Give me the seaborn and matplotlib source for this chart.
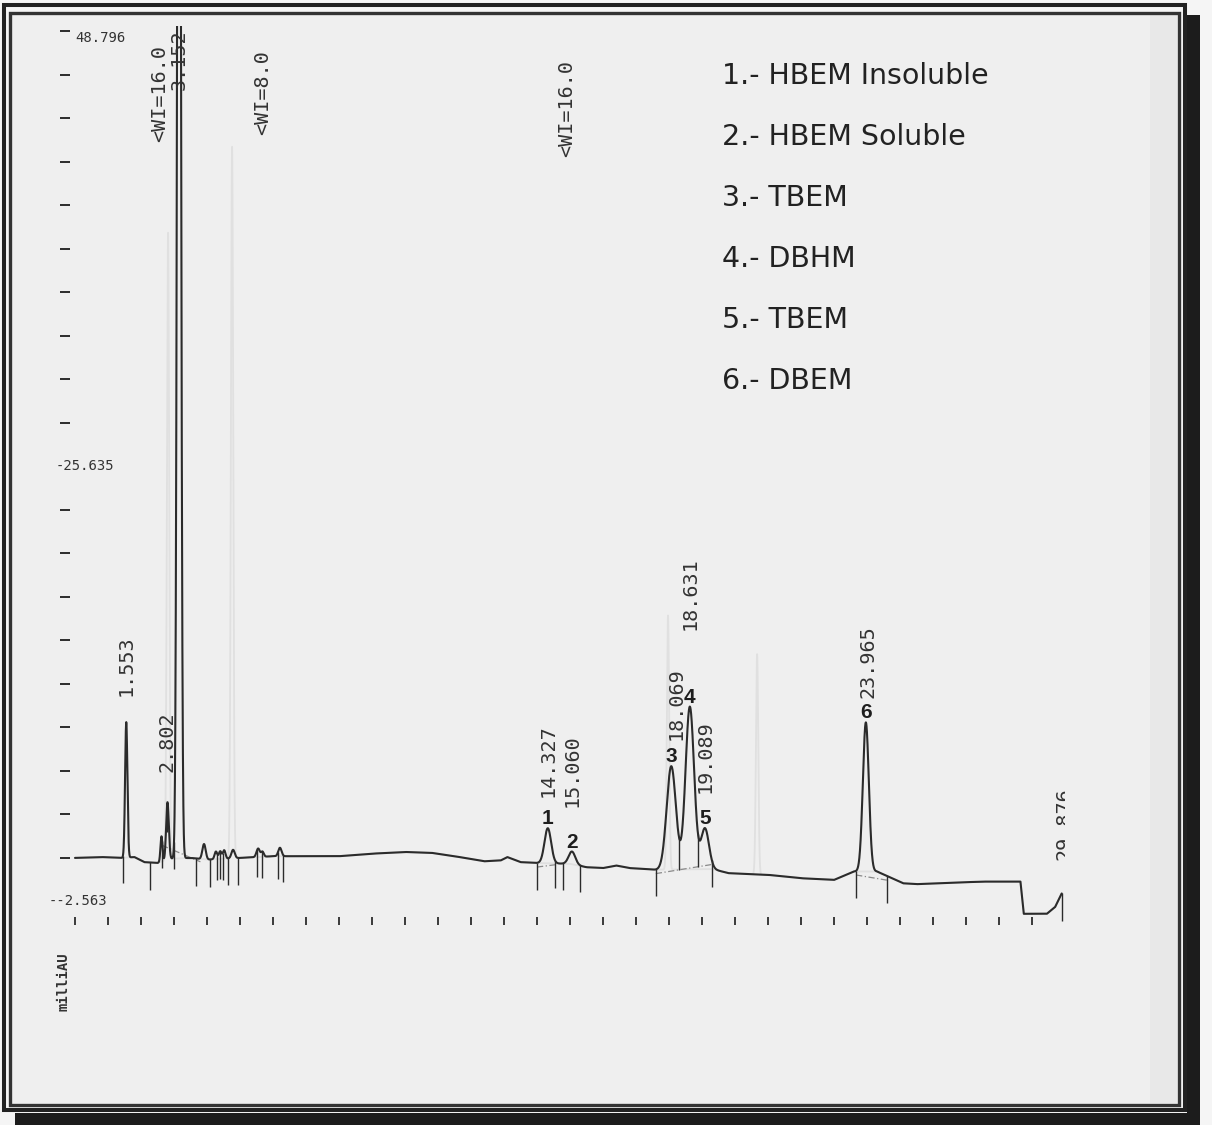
import numpy as np
import matplotlib
matplotlib.use("Agg")
import matplotlib.pyplot as plt
from matplotlib.patches import Rectangle
import seaborn as sns

# ---------------- chromatogram data (time in min, signal in milliAU) ----------------
peak_times   = [1.553, 2.62, 2.802, 3.152, 3.91, 4.27, 4.40, 4.52, 4.79, 5.55, 5.68, 6.21,
                14.327, 15.060, 18.069, 18.631, 19.089, 23.965]
peak_heights = [8.0, 1.5, 3.4, 100.0, 0.9, 0.45, 0.45, 0.5, 0.5, 0.5, 0.3, 0.5,
                2.07, 0.75, 6.1, 9.6, 2.4, 8.8]
peak_sigmas  = [0.035, 0.03, 0.04, 0.05, 0.05, 0.04, 0.04, 0.04, 0.05, 0.05, 0.04, 0.05,
                0.10, 0.10, 0.14, 0.13, 0.12, 0.09]

# detector baseline drift
base_times  = [0, 0.8, 1.4, 1.8, 2.1, 2.5, 2.9, 3.5, 4.0, 5.0, 6.0, 7.0, 8.0, 9.0, 10.0,
               10.8, 11.5, 12.4, 12.9, 13.1, 13.5, 14.0, 15.0, 15.5, 16.0, 16.4, 16.8,
               17.6, 19.3, 19.8, 21.0, 22.0, 23.0, 23.6, 24.3, 25.1, 25.5, 26.5, 27.5,
               28.65, 28.75, 29.45, 29.7, 29.9]
base_values = [0.0, 0.05, 0.0, 0.05, -0.25, -0.3, -0.05, 0.0, -0.1, 0.0, 0.1, 0.1, 0.1, 0.25,
               0.35, 0.3, 0.1, -0.2, -0.15, 0.05, -0.25, -0.3, -0.35, -0.55, -0.6, -0.45,
               -0.6, -0.7, -0.65, -0.9, -1.0, -1.2, -1.3, -0.8, -0.8, -1.5, -1.55, -1.47,
               -1.4, -1.4, -3.3, -3.3, -2.9, -2.1]

# faint trace showing through the chart paper
ghost_times   = [2.82, 4.76, 17.97, 20.67]
ghost_heights = [37.0, 42.0, 15.0, 13.0]

# retention-time annotations printed by the integrator
rt_labels = ["1.553", "2.802", "14.327", "15.060", "18.069", "18.631", "19.089", "23.965"]
rt_times  = [1.553, 2.802, 14.327, 15.060, 18.069, 18.631, 19.089, 23.965]
main_rt_label, main_rt_time = "3.152", 3.152
end_rt_label, end_rt_time = "29.876", 29.876

# integration events
event_labels = ["<WI=16.0", "<WI=8.0", "<WI=16.0"]
event_times  = [2.55, 5.70, 14.90]

# peak markers (drop lines) and valley splits
drop_times   = [1.45, 2.27, 2.64, 2.79, 3.0, 3.67, 4.09, 4.30, 4.39, 4.48, 4.64, 4.94,
                5.52, 5.67, 6.15, 6.30, 14.0, 14.55, 14.79, 15.3, 17.6, 19.3, 23.67, 24.6, 29.9]
valley_times = [18.30, 18.88]
integration_spans = [(2.64, 3.8), (14.0, 14.55), (17.6, 19.3), (23.67, 24.6)]

# identified compounds
compound_ids   = ["1", "2", "3", "4", "5", "6"]
compound_times = [14.327, 15.060, 18.069, 18.631, 19.089, 23.965]
compound_names = ["HBEM Insoluble", "HBEM Soluble", "TBEM", "DBHM", "TBEM", "DBEM"]

# y scale of the recorder
y_top, y_bottom, y_divisions = 48.796, -2.563, 20
y_label_text = {0: "48.796", 10: "-25.635", 20: "--2.563"}
time_ticks = list(range(0, 30))

# ---------------- layout ----------------
W, H = 1212, 1125
INK = "#2b2b2b"
PAPER = "#efefef"
MONO = "DejaVu Sans Mono"

sns.set_theme(style="white")
plt.rcParams["font.family"] = ["DejaVu Sans"]

fig = plt.figure(figsize=(W / 100, H / 100), dpi=100)
fig.patch.set_facecolor("#f5f5f5")

def fx(px):
    return px / W

def fy(py):
    return 1 - py / H

ax = fig.add_axes([fx(42), fy(1040), fx(1065) - fx(42), fy(26) - fy(1040)])
ax.set_xlim(-1.0, 30.0)
ax.set_ylim(-10.75, 49.11)
ax.axis("off")
ax.patch.set_alpha(0)

# paper and frame
fig.add_artist(Rectangle((fx(10), fy(1105)), fx(1178) - fx(10), fy(12) - fy(1105),
                         transform=fig.transFigure, facecolor=PAPER, edgecolor="none", zorder=-3))
fig.add_artist(Rectangle((fx(1150), fy(1103)), fx(1177) - fx(1150), fy(14) - fy(1103),
                         transform=fig.transFigure, facecolor="#e4e4e4", edgecolor="none",
                         alpha=0.6, zorder=-2))
fig.add_artist(Rectangle((fx(1187), fy(1125)), fx(1200) - fx(1187), fy(15) - fy(1125),
                         transform=fig.transFigure, facecolor="#1c1c1c", edgecolor="none", zorder=5))
fig.add_artist(Rectangle((fx(15), fy(1125)), fx(1200) - fx(15), fy(1113) - fy(1125),
                         transform=fig.transFigure, facecolor="#1c1c1c", edgecolor="none", zorder=5))
fig.add_artist(Rectangle((fx(3.5), fy(1110)), fx(1184.5) - fx(3.5), fy(5) - fy(1110),
                         transform=fig.transFigure, facecolor="none", edgecolor="#222222",
                         linewidth=2.9, zorder=5))
fig.add_artist(Rectangle((fx(9.5), fy(1104.5)), fx(1178.5) - fx(9.5), fy(12.5) - fy(1104.5),
                         transform=fig.transFigure, facecolor="none", edgecolor="#333333",
                         linewidth=2.4, zorder=5))

# ---------------- signal ----------------
t = np.arange(0.0, 29.9 + 1e-9, 0.002)
signal = np.interp(t, base_times, base_values)
for tr, h, s in zip(peak_times, peak_heights, peak_sigmas):
    signal = signal + h * np.exp(-0.5 * ((t - tr) / s) ** 2)

ghost = np.interp(t, base_times, base_values)
for tr, h in zip(ghost_times, ghost_heights):
    ghost = ghost + h * np.exp(-0.5 * ((t - tr) / 0.035) ** 2)
ax.plot(t, ghost, color="#e0e0e0", linewidth=1.3, zorder=1)

sns.lineplot(x=t, y=signal, ax=ax, color=INK, linewidth=1.5, zorder=3)

def trace_at(x):
    return float(np.interp(x, t, signal))

# integration baselines (dash-dot) and drop lines
for a, b in integration_spans:
    ax.plot([a, b], [trace_at(a) - 0.25, trace_at(b) - 0.25], color="#8a8a8a",
            linewidth=0.9, linestyle=(0, (5, 2, 1, 2)), zorder=2)
drop_tops = [trace_at(x) for x in drop_times]
ax.vlines(drop_times, [v - 1.6 for v in drop_tops], drop_tops, color=INK, linewidth=1.0, zorder=2)
a, b = 17.6, 19.3
for vt in valley_times:
    floor = np.interp(vt, [a, b], [trace_at(a) - 0.25, trace_at(b) - 0.25])
    ax.vlines(vt, floor, trace_at(vt), color=INK, linewidth=1.0, zorder=2)

# recorder y scale
y_ticks = [y_top - k * (y_top - y_bottom) / y_divisions for k in range(y_divisions + 1)]
plain = [v for k, v in enumerate(y_ticks) if k not in (10, 20)]
ax.hlines(plain, -0.45, -0.15, color=INK, linewidth=1.4)
scale_style = dict(family=MONO, fontsize=10, color="#333333")
ax.text(0.0, y_ticks[0], y_label_text[0], ha="left", va="top", **scale_style)
ax.text(-0.6, y_ticks[10], y_label_text[10], ha="left", va="center", **scale_style)
ax.text(-0.8, y_ticks[20], y_label_text[20], ha="left", va="center", **scale_style)
ax.text(-0.35, -7.3, "milliAU", rotation=90, ha="center", va="center",
        fontweight="bold", **scale_style)

# time ticks
ax.vlines(time_ticks, -3.95, -3.5, color=INK, linewidth=1.3)

# retention-time labels
label_style = dict(rotation=90, ha="center", va="bottom", family=MONO, fontsize=14.5,
                   color="#333333", textcoords="offset pixels")
rt_lift = [26, 30, 31, 45, 26, 77, 35, 24]
rt_shift = [0, 0, 0, 0, 5, 0, 0, 2]
for lab, rt, lift, dx in zip(rt_labels, rt_times, rt_lift, rt_shift):
    ax.annotate(lab, (rt, trace_at(rt)), xytext=(dx, lift), **label_style)
ax.annotate(main_rt_label, (main_rt_time, 48.9), rotation=90, ha="center", va="top",
            family=MONO, fontsize=14.5, color="#333333")
end_label = ax.annotate(end_rt_label, (end_rt_time, trace_at(29.9)), xytext=(3, 33),
                        annotation_clip=False, **label_style)
end_label.set_clip_path(ax.patch)
end_label.set_clip_on(True)

# integration events
event_tops = [48.0, 47.7, 47.1]
for lab, et, top in zip(event_labels, event_times, event_tops):
    ax.text(et, top, lab, rotation=90, ha="center", va="top", family=MONO,
            fontsize=14.5, color="#333333")

# compound numbers
for cid, ct in zip(compound_ids, compound_times):
    ax.annotate(cid, (ct, trace_at(ct)), xytext=(0, 4), textcoords="offset pixels",
                ha="center", va="baseline", fontsize=15, fontweight="bold",
                family="Liberation Sans", color="#1e1e1e")

# compound key
for i, (cid, name) in enumerate(zip(compound_ids, compound_names)):
    fig.text(fx(722), fy(84 + 61 * i), f"{cid}.- {name}", family="DejaVu Sans", fontsize=20.5,
             color="#222222", ha="left", va="baseline")

fig.savefig("out.png", dpi=100, facecolor=fig.get_facecolor())
